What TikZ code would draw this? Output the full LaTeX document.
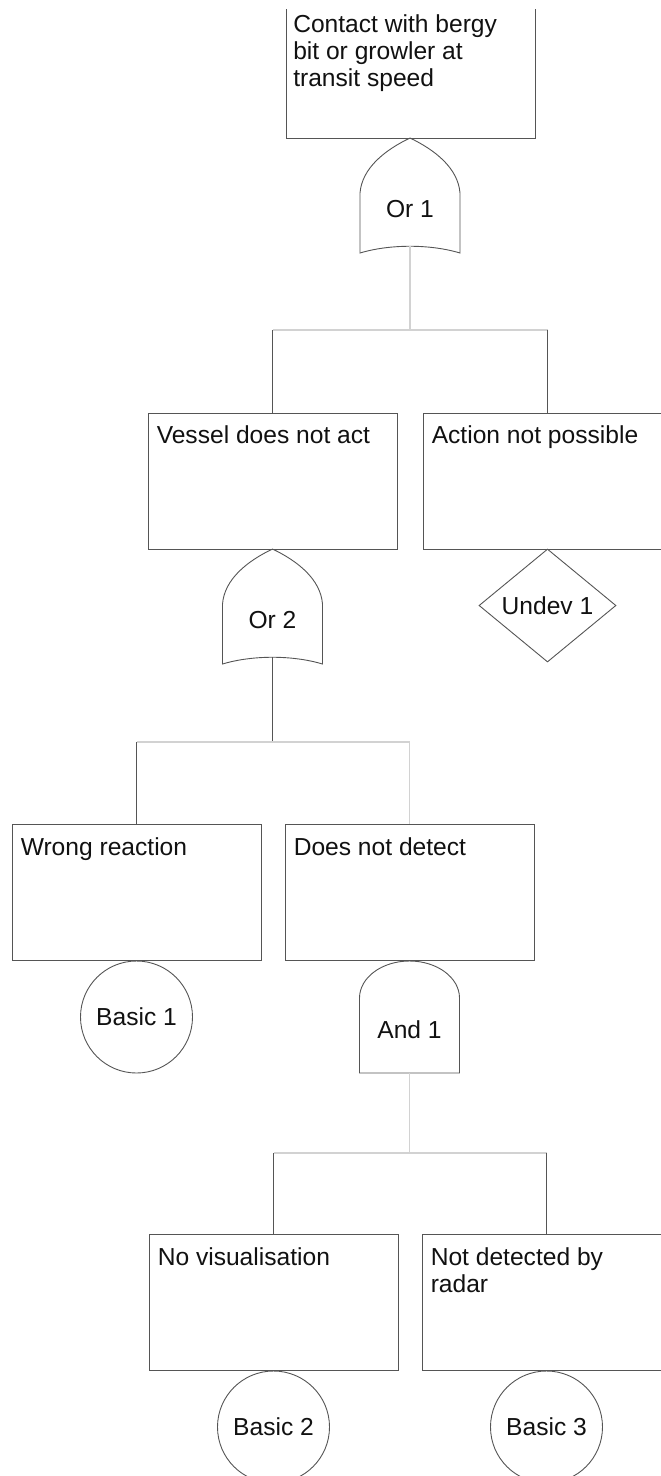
\documentclass[tikz,border=0pt]{standalone}
\usepackage{fontspec}
\setmainfont{Liberation Sans}
\usetikzlibrary{shapes.geometric,calc}
\definecolor{edge}{HTML}{555555}
\definecolor{lite}{HTML}{D2D2D2}
\definecolor{ink}{HTML}{111111}
\tikzset{
  evbox/.style={draw=edge,line width=0.9pt,rectangle,minimum width=249pt,minimum height=136pt,inner sep=0pt},
  evtext/.style={anchor=base west,inner sep=0pt,text=ink,font=\fontsize{24.6}{27}\selectfont},
  gatelabel/.style={inner sep=0pt,text=ink,font=\fontsize{24.6}{27}\selectfont},
  gateline/.style={draw=edge,line width=0.9pt},
  basicev/.style={circle,draw=edge,line width=0.9pt,minimum size=112pt,inner sep=0pt,text=ink,font=\fontsize{24.6}{27}\selectfont},
  undevev/.style={diamond,aspect=1.2,draw=edge,line width=0.9pt,minimum width=137pt,minimum height=113pt,inner sep=0pt,text=ink,font=\fontsize{24.6}{27}\selectfont},
  darkconn/.style={draw=edge,line width=1.1pt},
  liteconn/.style={draw=lite,line width=1.1pt},
}
\newcommand{\orshape}[2]{%
  \draw[gateline] (#1-50,#2+55) .. controls (#1-48,#2+30) and (#1-25,#2+12) .. (#1,#2)
    .. controls (#1+25,#2+12) and (#1+48,#2+30) .. (#1+50,#2+55) -- (#1+50,#2+115)
    .. controls (#1+20,#2+106) and (#1-20,#2+106) .. (#1-50,#2+115) -- cycle;}
\begin{document}
\begin{tikzpicture}[x=1pt,y=-1pt]
\useasboundingbox (0,0) rectangle (661,1476);
\begin{scope}
\clip (0,9) rectangle (661,1476);
% level 0
\node[evbox] (top) at (411,70) {};
\node[evtext] (toptext) at ($(top.north west)+(7,31)$) {\parbox[t]{240pt}{\raggedright Contact with bergy\\bit or growler at\\transit speed}};
\orshape{410}{138}
\node[gatelabel] (or1) at (410,209) {Or 1};
\coordinate (or1out) at (410,246);
\coordinate (j1) at (410,330);
% level 1
\node[evbox] (vessel) at (272.5,481) {};
\node[evtext] (vesseltext) at ($(vessel.north west)+(9,31)$) {Vessel does not act};
\node[evbox] (action) at (547.5,481) {};
\node[evtext] (actiontext) at ($(action.north west)+(9,31)$) {Action not possible};
\orshape{272.5}{549}
\node[gatelabel] (or2) at (272.5,620) {Or 2};
\coordinate (or2out) at (272.5,657);
\coordinate (j2) at (272.5,742);
\node[undevev] (undev1) at (547.5,605.5) {Undev 1};
% level 2
\node[evbox] (wrong) at (136.5,892.5) {};
\node[evtext] (wrongtext) at ($(wrong.north west)+(9,31)$) {Wrong reaction};
\node[evbox] (detect) at (409.5,892.5) {};
\node[evtext] (detecttext) at ($(detect.north west)+(9,31)$) {Does not detect};
\node[basicev] (basic1) at (136.5,1017) {Basic 1};
\draw[gateline] (359.5,1073) -- (359.5,998) .. controls (359.5,977.6) and (381.9,961) .. (409.5,961)
  .. controls (437.1,961) and (459.5,977.6) .. (459.5,998) -- (459.5,1073) -- cycle;
\node[gatelabel] (and1) at (409.5,1030) {And 1};
\coordinate (and1out) at (409.5,1073);
\coordinate (j3) at (409.5,1153);
% level 3
\node[evbox] (novis) at (273.5,1302.5) {};
\node[evtext] (novistext) at ($(novis.north west)+(9,31)$) {No visualisation};
\node[evbox] (radar) at (546.5,1302.5) {};
\node[evtext] (radartext) at ($(radar.north west)+(9,31)$) {\parbox[t]{240pt}{\raggedright Not detected by\\radar}};
\node[basicev] (basic2) at (273.5,1427) {Basic 2};
\node[basicev] (basic3) at (546.5,1427) {Basic 3};
% connectors
\draw[liteconn] (or1out) -- (j1);
\draw[liteconn] (vessel.north |- j1) -- (action.north |- j1);
\draw[darkconn] (vessel.north |- j1) -- (vessel.north);
\draw[darkconn] (action.north |- j1) -- (action.north);
\draw[darkconn] (or2out) -- (j2);
\draw[liteconn] (wrong.north |- j2) -- (detect.north |- j2);
\draw[darkconn] (wrong.north |- j2) -- (wrong.north);
\draw[liteconn] (detect.north |- j2) -- (detect.north);
\draw[liteconn] (and1out) -- (j3);
\draw[liteconn] (novis.north |- j3) -- (radar.north |- j3);
\draw[darkconn] (novis.north |- j3) -- (novis.north);
\draw[darkconn] (radar.north |- j3) -- (radar.north);
\end{scope}
\end{tikzpicture}
\end{document}
